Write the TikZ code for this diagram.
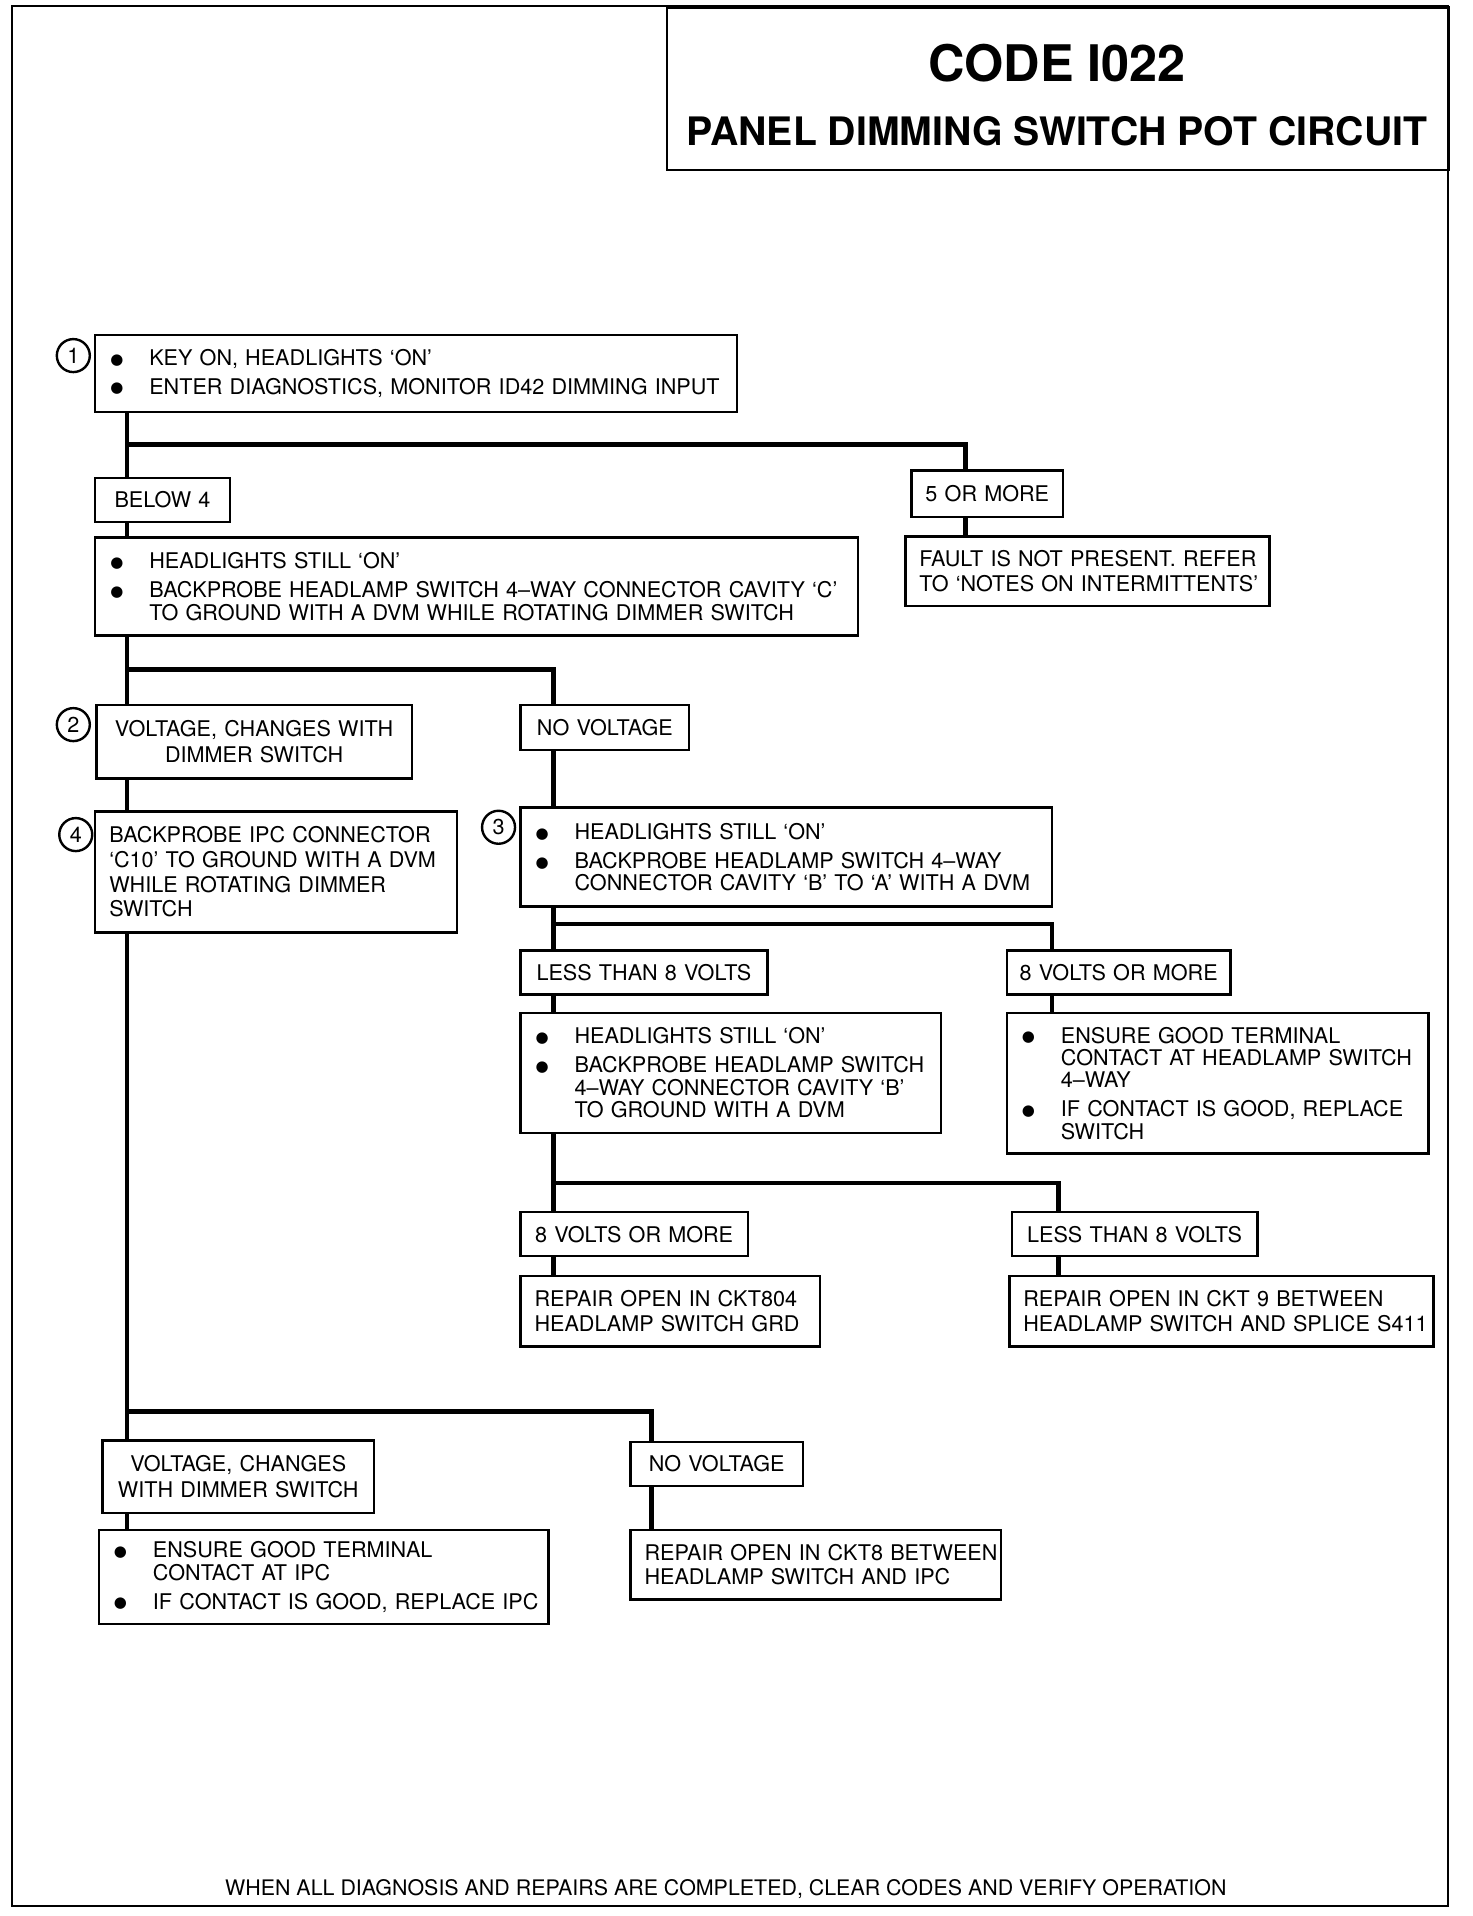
\documentclass[tikz,border=0pt]{standalone}
\usepackage{fontspec}
\setmainfont{TeX Gyre Heros}
\newfontfamily\dotfont{DejaVu Sans}
\usepackage{tikz}

\newcommand{\bul}{\makebox[20pt][l]{\hspace{0.5pt}\raisebox{0.6pt}{\dotfont\fontsize{7.5}{8}\selectfont ●}}}
\newcommand{\contline}{\hspace*{20pt}}

\begin{document}
\begin{tikzpicture}[
        x=0.6108pt, y=-0.6108pt,
        sheet/.style={line width=1pt},
        box/.style={rectangle, draw, line width=1.2pt, anchor=north west, inner sep=0pt,
                    align=center, font=\fontsize{10.8}{12.6}\selectfont},
        lbox/.style={box, align=left, font=\fontsize{10.8}{11.2}\selectfont,
                     execute at begin node={\leftskip=7pt}},
        pbox/.style={lbox, font=\fontsize{10.8}{12.4}\selectfont},
        sz/.style 2 args={minimum width=#1*0.6108pt, minimum height=#2*0.6108pt,
                          text width=#1*0.6108pt},
        num/.style={circle, draw, line width=1.2pt, minimum size=27*0.6108pt, inner sep=0pt,
                    font=\fontsize{10.8}{12}\selectfont},
        wire/.style={line width=2.3pt}
    ]
    \useasboundingbox (0,0) rectangle (1205,1568);
    \draw[sheet] (10,5) rectangle (1185,1560);

    % title block
    \node[box, sz={640}{133}] (ttl) at (545,5) {};
    \node[font=\bfseries\fontsize{25.2}{28}\selectfont] (code) at (865,52) {CODE I022};
    \node[font=\bfseries\fontsize{19.6}{22}\selectfont] (name) at (865,107) {PANEL DIMMING SWITCH POT CIRCUIT};

    % step 1
    \node[lbox, sz={525}{63}] (k1) at (77,273) {\bul KEY ON, HEADLIGHTS `ON'\\[3.2pt]\bul ENTER DIAGNOSTICS, MONITOR ID42 DIMMING INPUT};
    \node[num] (n1) at (60,291) {1};
    \node[box, sz={110}{36}] (b4) at (77,390) {BELOW 4};
    \node[box, sz={124}{38}] (m5) at (745,384) {5 OR MORE};
    \node[pbox, sz={298}{57}] (flt) at (740,438) {FAULT IS NOT PRESENT. REFER\\TO `NOTES ON INTERMITTENTS'};
    \node[lbox, sz={624}{80}] (k2) at (77,439) {\bul HEADLIGHTS STILL `ON'\\[3.2pt]\bul BACKPROBE HEADLAMP SWITCH 4--WAY CONNECTOR CAVITY `C'\\\contline TO GROUND WITH A DVM WHILE ROTATING DIMMER SWITCH};

    % step 2 / 3
    \node[box, sz={258}{60}] (v2) at (78,576) {VOLTAGE, CHANGES WITH\\DIMMER SWITCH};
    \node[num] (n2) at (60,593) {2};
    \node[box, sz={138}{37}] (nv1) at (425,576) {NO VOLTAGE};
    \node[pbox, sz={296}{99}] (k4) at (77,663) {BACKPROBE IPC CONNECTOR\\`C10' TO GROUND WITH A DVM\\WHILE ROTATING DIMMER\\SWITCH};
    \node[num] (n4) at (62,683) {4};
    \node[lbox, sz={435}{81}] (k3) at (425,660) {\bul HEADLIGHTS STILL `ON'\\[3.2pt]\bul BACKPROBE HEADLAMP SWITCH 4--WAY\\\contline CONNECTOR CAVITY `B' TO `A' WITH A DVM};
    \node[num] (n3) at (408,677) {3};

    \node[box, sz={202}{36}] (lt1) at (425,777) {LESS THAN 8 VOLTS};
    \node[box, sz={183}{36}] (gt1) at (823,777) {8 VOLTS OR MORE};
    \node[lbox, sz={344}{98}] (k5) at (425,828) {\bul HEADLIGHTS STILL `ON'\\[3.2pt]\bul BACKPROBE HEADLAMP SWITCH\\\contline 4--WAY CONNECTOR CAVITY `B'\\\contline TO GROUND WITH A DVM};
    \node[lbox, sz={345}{115}] (k6) at (823,828) {\bul ENSURE GOOD TERMINAL\\\contline CONTACT AT HEADLAMP SWITCH\\\contline 4--WAY\\[3.2pt]\bul IF CONTACT IS GOOD, REPLACE\\\contline SWITCH};
    \node[box, sz={186}{36}] (gt2) at (425,991) {8 VOLTS OR MORE};
    \node[box, sz={201}{36}] (lt2) at (827,991) {LESS THAN 8 VOLTS};
    \node[pbox, sz={245}{58}] (r1) at (425,1043) {REPAIR OPEN IN CKT804\\HEADLAMP SWITCH GRD};
    \node[pbox, sz={347}{58}] (r2) at (825,1043) {REPAIR OPEN IN CKT 9 BETWEEN\\HEADLAMP SWITCH AND SPLICE S411};

    % step 4
    \node[box, sz={222}{59}] (v3) at (83,1178) {VOLTAGE, CHANGES\\WITH DIMMER SWITCH};
    \node[box, sz={141}{36}] (nv2) at (515,1179) {NO VOLTAGE};
    \node[lbox, sz={368}{77}] (k9) at (80,1251) {\bul ENSURE GOOD TERMINAL\\\contline CONTACT AT IPC\\[3.2pt]\bul IF CONTACT IS GOOD, REPLACE IPC};
    \node[pbox, sz={303}{57}] (r3) at (515,1251) {REPAIR OPEN IN CKT8 BETWEEN\\HEADLAMP SWITCH AND IPC};

    \node[font=\fontsize{10.7}{12}\selectfont] (foot) at (594,1546) {WHEN ALL DIAGNOSIS AND REPAIRS ARE COMPLETED, CLEAR CODES AND VERIFY OPERATION};

    % branch points
    \coordinate (j1) at (104,364);  \coordinate (j2) at (790,364);
    \coordinate (j3) at (104,548);  \coordinate (j4) at (453,548);
    \coordinate (j5) at (453,756);  \coordinate (j6) at (861,756);
    \coordinate (j7) at (453,968);  \coordinate (j8) at (866,968);
    \coordinate (j9) at (104,1155); \coordinate (j10) at (533,1155);

    \draw[wire] (k1.south -| j1) -- (b4.north -| j1);
    \draw[wire] (j1) -- (j2) -- (j2 |- m5.north);
    \draw[wire] (m5.south -| j2) -- (flt.north -| j2);
    \draw[wire] (b4.south -| j1) -- (k2.north -| j1);

    \draw[wire] (k2.south -| j3) -- (v2.north -| j3);
    \draw[wire] (j3) -- (j4) -- (j4 |- nv1.north);
    \draw[wire] (v2.south -| j3) -- (k4.north -| j3);
    \draw[wire] (nv1.south -| j4) -- (k3.north -| j4);

    \draw[wire] (k3.south -| j5) -- (lt1.north -| j5);
    \draw[wire] (j5) -- (j6) -- (j6 |- gt1.north);
    \draw[wire] (lt1.south -| j5) -- (k5.north -| j5);
    \draw[wire] (gt1.south -| j6) -- (k6.north -| j6);

    \draw[wire] (k5.south -| j7) -- (gt2.north -| j7);
    \draw[wire] (j7) -- (j8) -- (j8 |- lt2.north);
    \draw[wire] (gt2.south -| j7) -- (r1.north -| j7);
    \draw[wire] (lt2.south -| j8) -- (r2.north -| j8);

    \draw[wire] (k4.south -| j9) -- (v3.north -| j9);
    \draw[wire] (j9) -- (j10) -- (j10 |- nv2.north);
    \draw[wire] (v3.south -| j9) -- (k9.north -| j9);
    \draw[wire] (nv2.south -| j10) -- (r3.north -| j10);
\end{tikzpicture}
\end{document}
